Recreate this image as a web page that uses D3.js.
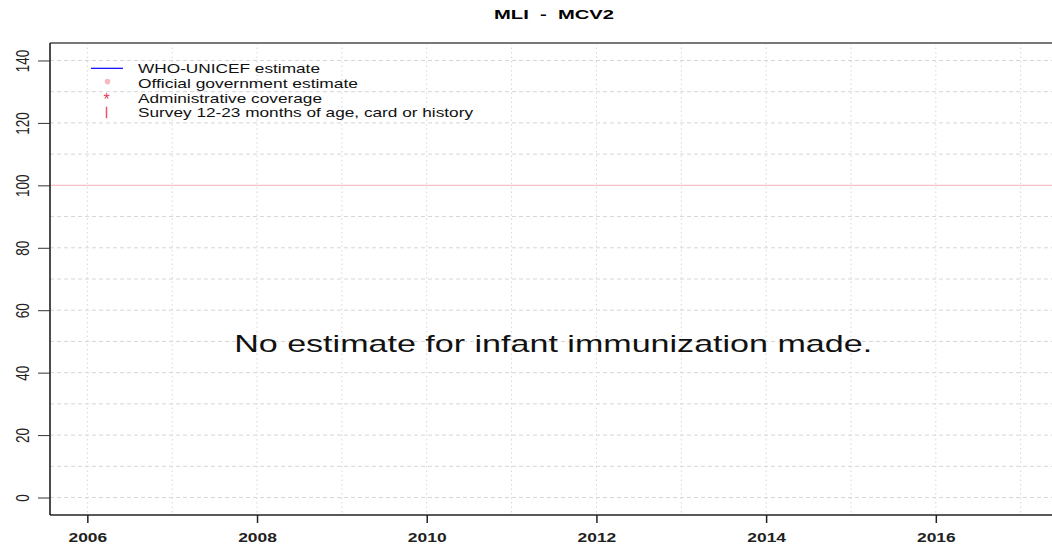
<!DOCTYPE html>
<html>
<head>
<meta charset="utf-8">
<script src="https://cdn.jsdelivr.net/npm/d3@7"></script>
<style>
  body { margin: 0; background: #fff; }
  text { font-family: "Liberation Sans", Arial, sans-serif; }
</style>
</head>
<body>
<svg width="1052" height="548"></svg>
<script>
// chart values
var title = "MLI  -  MCV2";
var message = "No estimate for infant immunization made.";
var years = [2006, 2007, 2008, 2009, 2010, 2011, 2012, 2013, 2014, 2015, 2016, 2017];
var xTickLabels = [2006, 2008, 2010, 2012, 2014, 2016];
var yTickLabels = [0, 20, 40, 60, 80, 100, 120, 140];
var yGrid = [0, 10, 20, 30, 40, 50, 60, 70, 80, 90, 110, 120, 130, 140];
var refLine = [100];
var legendLabels = ["WHO-UNICEF estimate", "Official government estimate", "Administrative coverage", "Survey 12-23 months of age, card or history"];
var legendWidths = [182, 220, 184, 335];
var whoUnicef = [];   // no estimate made
var official = [];
var admin = [];

var svg = d3.select("svg"),
    margin = {top: 43, right: -6, bottom: 33, left: 50},
    width = +svg.attr("width") - margin.left - margin.right,
    height = +svg.attr("height") - margin.top - margin.bottom;

// the original picture is stretched sideways
var stretch = 1.34;

// R-style 4% padding around the data range
var x = d3.scaleLinear().domain([2005.56, 2017.44]).range([0, width]);
var y = d3.scaleLinear().domain([-5.6, 145.6]).range([height, 0]);

var g = svg.append("g")
    .attr("transform", "translate(" + margin.left + "," + margin.top + ")");

// horizontal dashed grid
g.selectAll(".hgrid")
  .data(yGrid)
  .enter().append("line")
    .attr("x1", 0).attr("x2", width)
    .attr("y1", function(d) { return y(d); })
    .attr("y2", function(d) { return y(d); })
    .attr("stroke", "#d6d6d6")
    .attr("stroke-dasharray", "4,3");

// vertical dotted grid
g.selectAll(".vgrid")
  .data(years)
  .enter().append("line")
    .attr("x1", function(d) { return x(d); })
    .attr("x2", function(d) { return x(d); })
    .attr("y1", 0).attr("y2", height)
    .attr("stroke", "#d6d6d6")
    .attr("stroke-dasharray", "1.5,3");

// 100% reference line
g.selectAll(".ref")
  .data(refLine)
  .enter().append("line")
    .attr("x1", 0).attr("x2", width)
    .attr("y1", function(d) { return y(d); })
    .attr("y2", function(d) { return y(d); })
    .attr("stroke", "#f6c0c6")
    .attr("stroke-width", 1.2);

// frame
g.append("line").attr("x1", 0).attr("x2", width).attr("y1", 0).attr("y2", 0)
  .attr("stroke", "#777").attr("stroke-width", 2);
g.append("line").attr("x1", 0).attr("x2", width).attr("y1", height).attr("y2", height)
  .attr("stroke", "#222").attr("stroke-width", 1.5);
g.append("line").attr("x1", 0).attr("x2", 0).attr("y1", 0).attr("y2", height)
  .attr("stroke", "#111").attr("stroke-width", 1.5);

// y axis
var yAxis = g.append("g")
    .call(d3.axisLeft(y).tickValues(yTickLabels).tickSize(12).tickPadding(0).tickFormat(d3.format("d")));
yAxis.select(".domain").remove();
yAxis.selectAll(".tick line").attr("stroke", "#333");
yAxis.selectAll(".tick text")
    .attr("x", 0).attr("y", 0)
    .attr("dy", "0.35em")
    .attr("transform", "translate(-27.5,0) scale(" + stretch + ",1) rotate(-90)")
    .attr("text-anchor", "middle")
    .attr("fill", "#222")
    .style("font-size", "13.5px");

// x axis
var xAxis = g.append("g")
    .attr("transform", "translate(0," + height + ")")
    .call(d3.axisBottom(x).tickValues(xTickLabels).tickSize(8).tickPadding(0).tickFormat(d3.format("d")));
xAxis.select(".domain").remove();
xAxis.selectAll(".tick line").attr("stroke", "#222").attr("stroke-width", 1.5);
xAxis.selectAll(".tick text")
    .attr("y", 0).attr("dy", 0)
    .attr("transform", "translate(0,27) scale(" + stretch + ",1)")
    .attr("fill", "#222")
    .style("font-size", "13px")
    .style("font-weight", "bold");

// series (empty: no estimate for this vaccine)
g.append("path")
    .datum(whoUnicef)
    .attr("fill", "none")
    .attr("stroke", "blue")
    .attr("d", d3.line().x(function(d) { return x(d.year); }).y(function(d) { return y(d.value); }));

// title
svg.append("text")
    .attr("x", 554).attr("y", 19)
    .attr("text-anchor", "middle")
    .attr("textLength", 120)
    .attr("lengthAdjust", "spacingAndGlyphs")
    .style("white-space", "pre")
    .style("font-size", "13px")
    .style("font-weight", "bold")
    .text(title);

// message
g.append("text")
    .attr("x", x(2011.49)).attr("y", y(46.6))
    .attr("text-anchor", "middle")
    .attr("textLength", 638)
    .attr("lengthAdjust", "spacingAndGlyphs")
    .style("font-size", "24px")
    .attr("fill", "#111")
    .text(message);

// legend
var leg = g.append("g");
var rowY = function(i) { return 25.3 + i * 14.8; };
leg.append("line")
    .attr("x1", 41).attr("x2", 73)
    .attr("y1", rowY(0)).attr("y2", rowY(0))
    .attr("stroke", "blue").attr("stroke-width", 1.2);
leg.append("circle")
    .attr("cx", 57.5).attr("cy", rowY(1) - 1.5)
    .attr("r", 2.8).attr("fill", "#f7b8c2");
leg.append("text")
    .attr("x", 56.5).attr("y", rowY(2) + 7)
    .attr("text-anchor", "middle")
    .attr("fill", "#e8394f")
    .style("font-size", "16px")
    .text("*");
leg.append("line")
    .attr("x1", 56.5).attr("x2", 56.5)
    .attr("y1", rowY(3) - 6).attr("y2", rowY(3) + 5.5)
    .attr("stroke", "#f0506a").attr("stroke-width", 1.5);
leg.selectAll(".ltext")
  .data(legendLabels)
  .enter().append("text")
    .attr("x", 88)
    .attr("y", function(d, i) { return rowY(i); })
    .attr("dy", "0.35em")
    .attr("textLength", function(d, i) { return legendWidths[i]; })
    .attr("lengthAdjust", "spacingAndGlyphs")
    .style("font-size", "13.5px")
    .attr("fill", "#111")
    .text(function(d) { return d; });
</script>
</body>
</html>
